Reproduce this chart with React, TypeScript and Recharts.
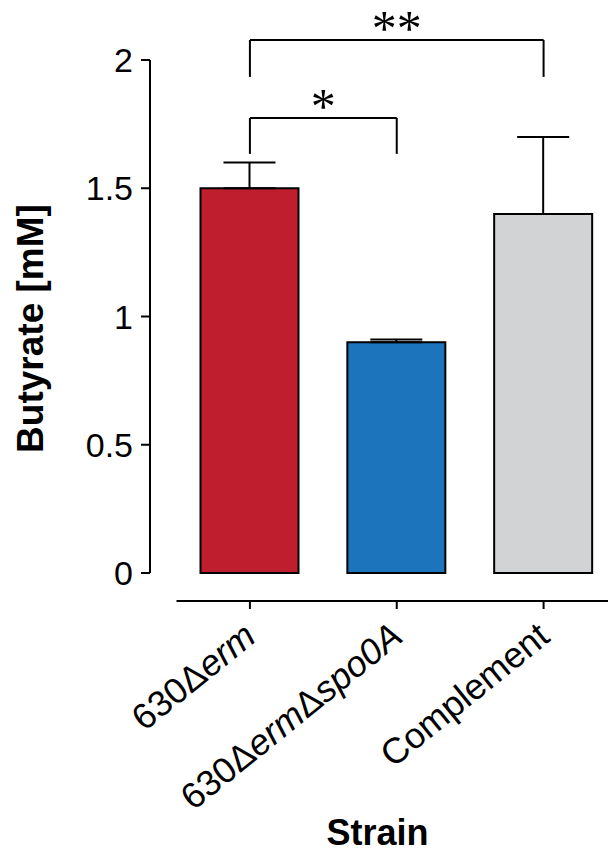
import { BarChart, Bar, XAxis, YAxis, Cell, ErrorBar, ReferenceLine } from "recharts";

const categories = ["630Δerm", "630ΔermΔspo0A", "Complement"];
const butyrate = [1.5, 0.9, 1.4];
const sem = [0.1, 0.01, 0.3];
const barColors = ["#BE1E2D", "#1C75BC", "#D1D3D4"];
// tick text pieces: [text, italic]
const tickParts: [string, boolean][][] = [
  [["630Δ", false], ["erm", true]],
  [["630Δ", false], ["erm", true], ["Δ", false], ["spo0A", true]],
  [["Complement", false]],
];
const yTicks = [0, 0.5, 1, 1.5, 2];
const brackets = [
  { from: "630Δerm", to: "630ΔermΔspo0A", top: 1.774, drop: 1.634, mark: "*" },
  { from: "630Δerm", to: "Complement", top: 2.078, drop: 1.934, mark: "**" },
];

const font = "Liberation Sans, Arial, sans-serif";
const xPad = 26.5;

const data = categories.map((strain, i) => ({
  strain,
  value: butyrate[i],
  err: [0, sem[i]],
}));

const StrainTick = (props: any) => {
  const { x, y, payload } = props;
  const parts = tickParts[categories.indexOf(payload.value)] || [];
  const ax = x + 8;
  const ay = y + 31;
  return (
    <text x={ax} y={ay} transform={`rotate(-39, ${ax}, ${ay})`} textAnchor="end"
      fontSize={36} fontFamily={font} fill="#000">
      {parts.map(([t, it], k) => (
        <tspan key={k} fontStyle={it ? "italic" : "normal"}>{t}</tspan>
      ))}
    </text>
  );
};

const StrainTitle = (props: any) => {
  const vb = props.viewBox;
  return (
    <text x={vb.x + vb.width / 2 - 6} y={vb.y + 244} textAnchor="middle"
      fontSize={36} fontWeight="bold" fontFamily={font} fill="#000">
      Strain
    </text>
  );
};

const YTitle = (props: any) => {
  const vb = props.viewBox;
  const cx = vb.x + 43;
  const cy = vb.y + vb.height / 2 + 12;
  return (
    <text x={cx} y={cy} transform={`rotate(-90, ${cx}, ${cy})`} textAnchor="middle"
      fontSize={37} fontWeight="bold" fontFamily={font} fill="#000">
      Butyrate [mM]
    </text>
  );
};

const starLabel = (mark: string) => (props: any) => {
  const vb = props.viewBox;
  return (
    <text x={vb.x + vb.width / 2} y={vb.y + 5} textAnchor="middle"
      fontSize={50} fontFamily="Liberation Serif, serif" fill="#000">
      {mark}
    </text>
  );
};

export default function App() {
  return (
    <div style={{ width: 608, height: 852, overflow: "hidden" }}>
      <style>{"html,body{margin:0;padding:0;overflow:hidden}"}</style>
      <BarChart width={617} height={852} data={data} barSize={98}
        margin={{ top: 60, right: 0, left: 0, bottom: 0 }}>
        <XAxis xAxisId="a" dataKey="strain" padding={{ left: xPad, right: 0 }}
          axisLine={false} tickLine={false} tick={false} height={28} />
        {/* detached x axis line, starts at the first category band */}
        <XAxis xAxisId="b" dataKey="strain" padding={{ left: xPad, right: 0 }}
          height={251} interval={0} tickSize={8} tickMargin={0}
          axisLine={{ stroke: "#000", strokeWidth: 2, strokeDasharray: `0 ${xPad} 2000` }}
          tickLine={{ stroke: "#000", strokeWidth: 2 }}
          tick={<StrainTick />} label={StrainTitle} />
        <YAxis type="number" domain={[0, 2]} ticks={yTicks} width={150}
          tickSize={9} tickMargin={8}
          axisLine={{ stroke: "#000", strokeWidth: 2 }}
          tickLine={{ stroke: "#000", strokeWidth: 2 }}
          tick={{ fill: "#000", fontSize: 34, fontFamily: font }}
          label={YTitle} />
        <Bar xAxisId="a" dataKey="value" stroke="#000" strokeWidth={2} isAnimationActive={false}>
          {data.map((d, i) => <Cell key={d.strain} fill={barColors[i]} />)}
          <ErrorBar dataKey="err" direction="y" width={26} stroke="#000" strokeWidth={2}
            isAnimationActive={false} />
        </Bar>
        {brackets.map((b) => [
          <ReferenceLine key={b.mark + "h"} xAxisId="a" ifOverflow="visible"
            stroke="#000" strokeWidth={2}
            segment={[{ x: b.from, y: b.top }, { x: b.to, y: b.top }]}
            label={starLabel(b.mark)} />,
          <ReferenceLine key={b.mark + "l"} xAxisId="a" ifOverflow="visible"
            stroke="#000" strokeWidth={2}
            segment={[{ x: b.from, y: b.top }, { x: b.from, y: b.drop }]} />,
          <ReferenceLine key={b.mark + "r"} xAxisId="a" ifOverflow="visible"
            stroke="#000" strokeWidth={2}
            segment={[{ x: b.to, y: b.top }, { x: b.to, y: b.drop }]} />,
        ])}
      </BarChart>
    </div>
  );
}
